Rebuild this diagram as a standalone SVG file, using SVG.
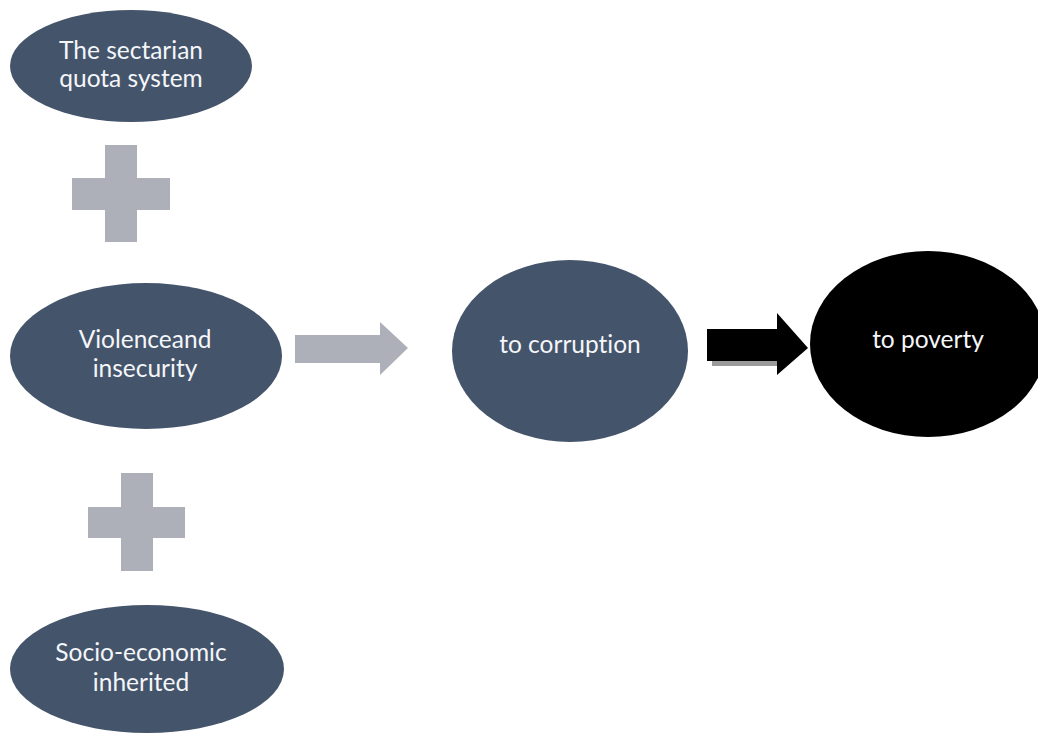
<svg xmlns="http://www.w3.org/2000/svg" width="1038" height="733" viewBox="0 0 1038 733">
<style>
.node{fill:#44546A}
.dark{fill:#000000}
.plus{fill:#ADB0B8}
.lbl{font-family:Lato,"Open Sans","Liberation Sans",sans-serif;font-size:24.5px;fill:#F4F6FA;text-anchor:middle;font-variant-ligatures:none}
</style>
<rect width="1038" height="733" fill="#ffffff"/>
<g id="n1">
<ellipse class="node" cx="131" cy="66" rx="121" ry="56"/>
<text class="lbl" x="131" y="59">The sectarian</text>
<text class="lbl" x="131" y="87">quota system</text>
</g>
<g id="plus1">
<rect class="plus" x="105" y="145" width="32" height="97"/>
<rect class="plus" x="72" y="178" width="98" height="32"/>
</g>
<g id="n2">
<ellipse class="node" cx="146" cy="356" rx="136" ry="73"/>
<text class="lbl" x="145" y="348">Violenceand</text>
<text class="lbl" x="145" y="377">insecurity</text>
</g>
<g id="plus2">
<rect class="plus" x="121" y="473" width="32" height="98"/>
<rect class="plus" x="88" y="507" width="97" height="31"/>
</g>
<g id="n5">
<ellipse class="node" cx="147" cy="669" rx="137" ry="64"/>
<text class="lbl" x="141" y="661">Socio-economic</text>
<text class="lbl" x="141" y="691">inherited</text>
</g>
<g id="n3">
<ellipse class="node" cx="570" cy="351" rx="118" ry="91"/>
<text class="lbl" x="570" y="353">to corruption</text>
</g>
<g id="n4">
<ellipse class="dark" cx="928" cy="344" rx="118" ry="93"/>
<text class="lbl" x="928" y="348">to poverty</text>
</g>
<g id="connectors">
<polygon class="plus" points="295,335 380,335 380,322 408,348 380,375 380,363 295,363"/>
<polygon fill="#9a9a9a" points="712,361 777,361 777,366 712,366"/>
<polygon class="dark" points="707,329 777,329 777,313 808,348 777,375 777,361 707,361"/>
</g>
</svg>
